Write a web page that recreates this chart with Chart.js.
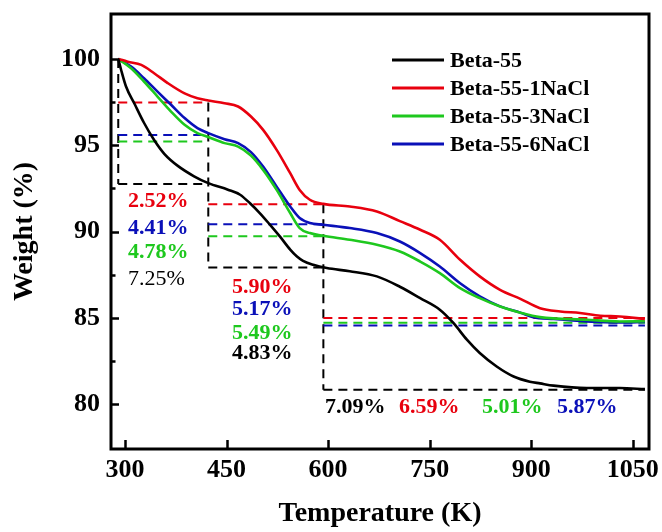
<!DOCTYPE html>
<html><head><meta charset="utf-8">
<script src="https://cdn.jsdelivr.net/npm/chart.js@4/dist/chart.umd.min.js"></script>
<style>html,body{margin:0;padding:0;background:#fff}</style>
</head><body>
<canvas id="c" width="662" height="532" style="width:662px;height:532px;display:block"></canvas>
<script>
// ---------- DATA ----------
const seriesNames = ['Beta-55', 'Beta-55-1NaCl', 'Beta-55-3NaCl', 'Beta-55-6NaCl'];
const seriesColors = ['#000000', '#e8000e', '#1ec81e', '#0a10b8'];

const betaT = [290,294,301.5,314,328,343,358,378,402,423,452,470,485,499,514,529,544,554,563,578,598,632,672,706,736,765,785,805,824,849,874,898,913,933,982,1031,1068];
const betaW = [100.0,99.4,98.4,97.4,96.3,95.3,94.5,93.8,93.2,92.8,92.42,92.13,91.62,91.07,90.4,89.7,88.95,88.55,88.3,88.07,87.88,87.7,87.4,86.8,86.14,85.47,84.7,83.73,82.96,82.18,81.6,81.3,81.2,81.07,80.93,80.93,80.87];

const na1T = [290,304,324,343,363,388,407,423,447,467,486,504,524,544,558,573,593,632,672,706,736,765,795,824,854,884,913,943,972,1002,1031,1068];
const na1W = [100.0,99.84,99.65,99.17,98.6,98.0,97.72,97.59,97.43,97.24,96.66,95.89,94.73,93.38,92.41,91.84,91.6,91.45,91.16,90.6,90.1,89.52,88.36,87.4,86.62,86.1,85.56,85.37,85.28,85.12,85.08,84.93];

const na3T = [290,309,328,348,368,388,407,423,447,467,486,504,524,544,558,573,593,632,672,706,736,765,795,824,854,884,913,982,1031,1068];
const na3W = [100.0,99.46,98.69,97.82,96.95,96.18,95.7,95.47,95.12,94.92,94.4,93.57,92.41,91.07,90.2,89.91,89.75,89.52,89.23,88.84,88.26,87.59,86.72,86.14,85.66,85.3,85.04,84.89,84.79,84.8];

const na6T = [290,309,328,348,368,388,407,423,447,467,486,504,524,544,558,573,593,632,672,706,736,765,795,824,854,884,903,933,982,1031,1068];
const na6W = [100.0,99.55,98.88,98.1,97.34,96.57,95.99,95.7,95.35,95.12,94.6,93.76,92.6,91.45,90.78,90.49,90.39,90.2,89.91,89.42,88.75,87.97,87.0,86.24,85.66,85.3,85.04,84.93,84.79,84.73,84.76];

// stage boundaries (K) and step levels (%) for dashed guide lines
const stageT = [290, 423, 593, 1068];
const betaLevels = [100, 92.75, 87.92, 80.83];
const na1Levels  = [100, 97.48, 91.58, 84.99];
const na3Levels  = [100, 95.22, 89.73, 84.72];
const na6Levels  = [100, 95.59, 90.42, 84.55];

// annotation labels (text, position in data units, colour index, bold)
const annText  = ['2.52%','4.41%','4.78%','7.25%','5.90%','5.17%','5.49%','4.83%','7.09%','6.59%','5.01%','5.87%'];
const annT     = [304.4,304.4,304.4,304.4,458.1,458.1,458.1,458.1,595.5,704.8,827.4,938.2];
const annW     = [91.72,90.21,88.82,87.26,86.74,85.52,84.13,82.92,79.79,79.79,79.79,79.79];
const annColor = [1,3,2,0,1,3,2,0,0,1,2,3];
const annBold  = [1,1,1,0,1,1,1,1,1,1,1,1];

const xTicks = [300, 450, 600, 750, 900, 1050];
const yTicks = [80, 85, 90, 95, 100];
const yMinorTicks = [82.5, 87.5, 92.5, 97.5];
const xRange = [279.3, 1074];
const yRange = [77.4, 102.6];

// ---------- BUILD ----------
const SERIF = "'Liberation Serif','Times New Roman',serif";
const pts = (T, W) => T.map((t, i) => ({x: t, y: W[i]}));
const curveSets = [[betaT,betaW],[na1T,na1W],[na3T,na3W],[na6T,na6W]];
const levelSets = [betaLevels, na1Levels, na3Levels, na6Levels];

const datasets = curveSets.map((s, i) => ({
  label: seriesNames[i],
  data: pts(s[0], s[1]),
  borderColor: seriesColors[i],
  borderWidth: 2.6,
  pointRadius: 0,
  cubicInterpolationMode: 'monotone',
  fill: false,
  order: 0
}));

function seg(x1, y1, x2, y2, color) {
  datasets.push({
    label: '_guide',
    data: [{x: x1, y: y1}, {x: x2, y: y2}],
    borderColor: color,
    borderWidth: 2,
    borderDash: [9, 6],
    pointRadius: 0,
    tension: 0,
    fill: false,
    order: 1
  });
}
for (let st = 1; st < stageT.length; st++) {
  levelSets.forEach((lv, i) => seg(stageT[st - 1], lv[st], stageT[st], lv[st], seriesColors[i]));
}
seg(stageT[0], betaLevels[0], stageT[0], betaLevels[1], '#000');
seg(stageT[1], na1Levels[1], stageT[1], betaLevels[2], '#000');
seg(stageT[2], na1Levels[2], stageT[2], betaLevels[3], '#000');

const decor = {
  id: 'decor',
  afterDraw(chart) {
    const {ctx, chartArea: a, scales: {x, y}} = chart;
    ctx.save();
    ctx.strokeStyle = '#000';
    ctx.lineWidth = 2.5;
    ctx.beginPath();
    xTicks.forEach(v => { const px = Math.round(x.getPixelForValue(v)) + 0.5; ctx.moveTo(px, a.bottom); ctx.lineTo(px, a.bottom - 9); });
    yTicks.forEach(v => { const py = Math.round(y.getPixelForValue(v)) + 0.5; ctx.moveTo(a.left, py); ctx.lineTo(a.left + 8, py); });
    yMinorTicks.forEach(v => { const py = Math.round(y.getPixelForValue(v)) + 0.5; ctx.moveTo(a.left, py); ctx.lineTo(a.left + 4.5, py); });
    ctx.stroke();
    ctx.lineWidth = 3;
    ctx.strokeRect(a.left, a.top, a.right - a.left, a.bottom - a.top);
    ctx.textAlign = 'left';
    ctx.textBaseline = 'middle';
    annText.forEach((t, i) => {
      ctx.font = (annBold[i] ? 'bold ' : '') + '22px ' + SERIF;
      ctx.fillStyle = seriesColors[annColor[i]];
      ctx.fillText(t, x.getPixelForValue(annT[i]), y.getPixelForValue(annW[i]));
    });
    const lx = a.left + 281, ly = a.top + 46, dy = 28;
    seriesNames.forEach((n, i) => {
      const yy = ly + i * dy;
      ctx.strokeStyle = seriesColors[i];
      ctx.lineWidth = 3;
      ctx.beginPath(); ctx.moveTo(lx, yy); ctx.lineTo(lx + 52, yy); ctx.stroke();
      ctx.fillStyle = '#000';
      ctx.font = 'bold 22px ' + SERIF;
      ctx.fillText(n, lx + 58, yy + 1);
    });
    ctx.restore();
  }
};

new Chart(document.getElementById('c'), {
  type: 'line',
  data: {datasets},
  options: {
    responsive: false,
    devicePixelRatio: 1,
    animation: false,
    layout: {padding: {top: 14, right: 13, left: 0, bottom: 0}},
    plugins: {legend: {display: false}, tooltip: {enabled: false}},
    scales: {
      x: {
        type: 'linear', min: xRange[0], max: xRange[1],
        afterBuildTicks: s => { s.ticks = xTicks.map(v => ({value: v})); },
        afterFit: s => { s.height = 83; s.paddingLeft = 0; s.paddingRight = 0; },
        grid: {display: false, drawTicks: false},
        border: {display: false},
        ticks: {color: '#000', padding: 6, maxRotation: 0, font: {family: SERIF, size: 26, weight: 'bold'}, callback: v => String(v)},
        title: {display: true, text: 'Temperature (K)', color: '#000', padding: {top: 0, bottom: 1}, font: {family: SERIF, size: 28, weight: 'bold'}}
      },
      y: {
        type: 'linear', min: yRange[0], max: yRange[1],
        afterBuildTicks: s => { s.ticks = yTicks.map(v => ({value: v})); },
        afterFit: s => { s.width = 111; s.paddingTop = 0; s.paddingBottom = 0; },
        grid: {display: false, drawTicks: false},
        border: {display: false},
        ticks: {color: '#000', padding: 11, font: {family: SERIF, size: 26, weight: 'bold'}, callback: v => String(v)},
        title: {display: true, text: 'Weight (%)', color: '#000', padding: {top: 8, bottom: 0}, font: {family: SERIF, size: 28, weight: 'bold'}}
      }
    }
  },
  plugins: [decor]
});
</script>
</body></html>
